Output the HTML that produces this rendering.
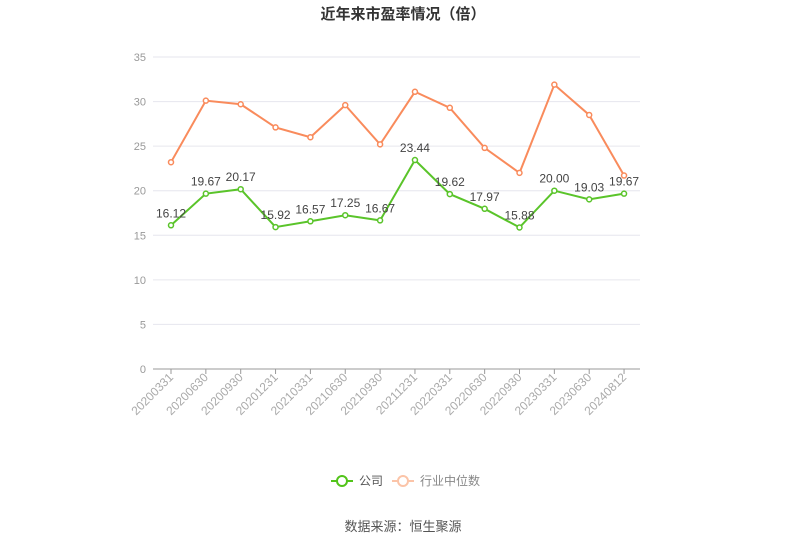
<!DOCTYPE html><html><head><meta charset="utf-8"><style>
body{margin:0;background:#fff;width:807px;height:546px;overflow:hidden}
text{font-family:"Liberation Sans","Noto Sans CJK SC",sans-serif}
</style></head><body>
<svg id="s" width="807" height="546" xmlns="http://www.w3.org/2000/svg">
<text x="403" y="19" text-anchor="middle" font-size="15" font-weight="bold" fill="#333">近年来市盈率情况（倍）</text>
<g id="g"></g>
<g>
<line x1="331" y1="481" x2="353" y2="481" stroke="#52c41a" stroke-width="2"/><circle cx="342" cy="481" r="5" fill="#fff" stroke="#52c41a" stroke-width="2"/>
<text x="359" y="485" font-size="12" fill="#555">公司</text>
<line x1="392" y1="481" x2="414" y2="481" stroke="#fbc4a8" stroke-width="2"/><circle cx="403" cy="481" r="5" fill="#fff" stroke="#fbc4a8" stroke-width="2"/>
<text x="420" y="485" font-size="12" fill="#888">行业中位数</text>
</g>
<text x="403" y="531" text-anchor="middle" font-size="13" fill="#555">数据来源：恒生聚源</text>
</svg>
<script>
var g=document.getElementById('g'),h='';
function Y(v){return 369-v*312/35}
for(var i=0;i<=7;i++){var y=Y(i*5);h+='<line x1="153" x2="640" y1="'+y+'" y2="'+y+'" stroke="'+(i?'#e6e6ee':'#999')+'" stroke-width="1"/>';
h+='<text x="146" y="'+(y+4)+'" text-anchor="end" font-size="11" fill="#999">'+(i*5)+'</text>';}
var L=['20200331','20200630','20200930','20201231','20210331','20210630','20210930','20211231','20220331','20220630','20220930','20230331','20230630','20240812'];
var G=[16.12,19.67,20.17,15.92,16.57,17.25,16.67,23.44,19.62,17.97,15.88,20.00,19.03,19.67];
var O=[23.2,30.1,29.7,27.1,26.0,29.6,25.2,31.1,29.3,24.8,22.0,31.9,28.5,21.7];
function X(i){return 171+i*34.85}
for(i=0;i<14;i++){h+='<line x1="'+X(i)+'" x2="'+X(i)+'" y1="369" y2="374" stroke="#999"/>';
h+='<text transform="translate('+(X(i)+3)+',378) rotate(-45)" text-anchor="end" font-size="12" fill="#aaa">'+L[i]+'</text>';}
function line(a,c){var p=a.map(function(v,i){return X(i)+','+Y(v)}).join(' ');
var s='<polyline points="'+p+'" fill="none" stroke="'+c+'" stroke-width="2"/>';
a.forEach(function(v,i){s+='<circle cx="'+X(i)+'" cy="'+Y(v)+'" r="2.5" fill="#fff" stroke="'+c+'" stroke-width="1.5"/>'});return s}
h+=line(O,'#f98b5c');h+=line(G,'#5ac42a');
G.forEach(function(v,i){h+='<text x="'+X(i)+'" y="'+(Y(v)-8)+'" text-anchor="middle" font-size="12" fill="#444">'+v.toFixed(2)+'</text>'});
g.innerHTML=h;
</script>
</body></html>
